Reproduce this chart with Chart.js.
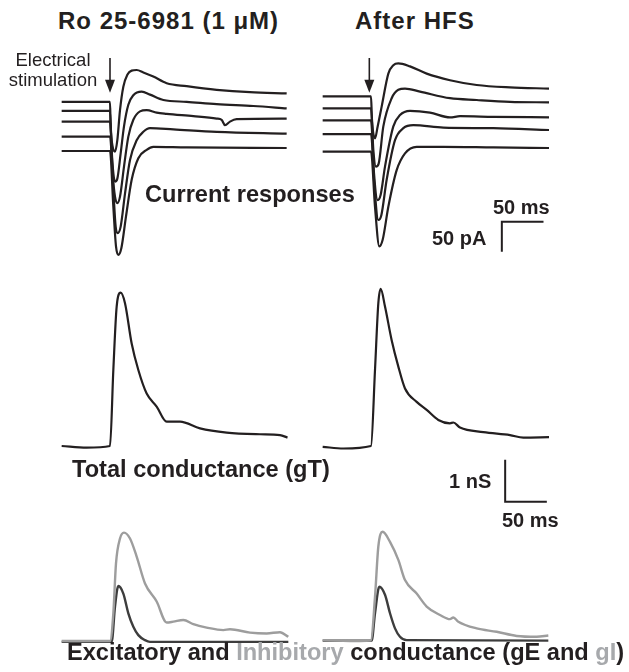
<!DOCTYPE html>
<html><head><meta charset="utf-8">
<script src="https://cdn.jsdelivr.net/npm/chart.js@4.4.1/dist/chart.umd.min.js"></script>
<style>
html,body{margin:0;padding:0;background:#fff;width:629px;height:672px;overflow:hidden;}
#wrap{position:relative;width:629px;height:672px;}
canvas{position:absolute;}
.t{position:absolute;font-family:"Liberation Sans",Arial,sans-serif;font-weight:bold;color:#231f20;line-height:1;white-space:nowrap;}
.r{font-weight:normal;text-align:center;width:110px;}
.g{color:#a7a9ac;}
</style></head><body><div id="wrap">
<canvas id="c1" width="230" height="215" style="left:60px;top:50px;width:230px;height:215px"></canvas>
<canvas id="c2" width="230" height="215" style="left:321px;top:50px;width:230px;height:215px"></canvas>
<canvas id="c3" width="230" height="230" style="left:60px;top:280px;width:230px;height:230px"></canvas>
<canvas id="c4" width="230" height="230" style="left:321px;top:280px;width:230px;height:230px"></canvas>
<canvas id="c5" width="230" height="140" style="left:60px;top:515px;width:230px;height:140px"></canvas>
<canvas id="c6" width="230" height="140" style="left:321px;top:515px;width:230px;height:140px"></canvas>

<div class="t" style="left:58px;top:8.7px;font-size:24px;letter-spacing:1px">Ro 25-6981 (1 μM)</div>
<div class="t" style="left:355px;top:8.7px;font-size:24px;letter-spacing:1px">After HFS</div>
<div class="t r" style="left:-2px;top:51.3px;font-size:18.5px">Electrical</div>
<div class="t r" style="left:-2px;top:71.3px;font-size:18.5px">stimulation</div>
<div class="t" style="left:145px;top:183px;font-size:23.6px">Current responses</div>
<div class="t" style="left:493px;top:197px;font-size:20px">50 ms</div>
<div class="t" style="left:432px;top:228px;font-size:20px">50 pA</div>
<div class="t" style="left:72px;top:458px;font-size:23.6px">Total conductance (gT)</div>
<div class="t" style="left:449px;top:471px;font-size:20px">1 nS</div>
<div class="t" style="left:502px;top:510px;font-size:20px">50 ms</div>
<div class="t" style="left:67px;top:641px;font-size:23.6px">Excitatory and <span class="g">Inhibitory</span> conductance (gE and <span class="g">gI</span>)</div>
</div>
<script>
// ---- Data: [time (ms from stimulus), value] ----
// Current responses (pA), Ro 25-6981 (1 µM)
const roCurrent1 = [[-58,82],[0,82],[0.8,41],[3.2,7],[6,-1],[8.8,18],[12,68],[16,107],[20.8,127],[26,134],[32,135],[40,131],[52,124],[68,113],[92,108],[128,102],[168,98],[212,96]];
const roCurrent2 = [[-58,67],[0,67],[2,2],[4,-37],[6,-51],[8.8,-46],[12.8,-4],[16.8,41],[22,77],[28,93],[38,99],[48,94],[64,85],[92,82],[128,78],[172,75],[212,71]];
const roCurrent3 = [[-58,49],[0,49],[3.2,-37],[6,-76],[8.8,-87],[12,-76],[16.8,-26],[22,24],[28,52],[36,66],[44,68],[56,64],[68,62],[100,58],[128,54],[134,52],[138,43],[144,49],[152,53],[212,54]];
const roCurrent4 = [[-58,24],[0,24],[4,-65],[6.8,-126],[9.2,-137],[12.8,-126],[18,-71],[24,-15],[32,18],[40,32],[48,38],[76,36],[128,32],[212,29]];
const roCurrent5 = [[-58,0],[0,0],[4,-93],[7.2,-159],[10,-173],[13.6,-162],[19.2,-109],[26,-48],[34,-12],[44,2],[52,7],[92,6],[212,5]];
// Current responses (pA), After HFS
const hfsCurrent1 = [[-58,91],[0,91],[1.2,52],[4.8,21],[8,41],[12.8,74],[20.8,129],[26.8,143],[32.8,146],[46.8,141],[66.8,129],[94.8,118],[126.8,110],[166.8,106],[213.6,104]];
const hfsCurrent2 = [[-58,71],[0,71],[2.8,2],[6,-26],[9.2,-21],[14.8,41],[24.8,88],[32.8,102],[40.8,104],[58.8,99],[94.8,88],[126.8,85],[166.8,82],[213.6,81]];
const hfsCurrent3 = [[-58,51],[0,51],[3.6,-37],[8,-82],[11.6,-73],[16.8,-26],[26.8,41],[34.8,60],[46.8,67],[70.8,64],[94.8,56],[106.8,58],[146.8,57],[213.6,56]];
const hfsCurrent4 = [[-58,28],[0,28],[4.4,-65],[8.8,-115],[12.4,-107],[18.8,-48],[28.8,18],[38.8,38],[50.8,43],[86.8,39],[146.8,38],[213.6,35]];
const hfsCurrent5 = [[-58,-1],[0,-1],[4.8,-93],[10,-159],[14,-148],[20.8,-93],[30.8,-32],[40.8,-4],[54.8,7],[86.8,7],[146.8,6],[213.6,5]];
// Total conductance gT (nS)
const roGT = [[-58,0],[-28,-0.04],[0,0],[4,1.81],[8,3.32],[12.8,3.65],[18,3.40],[26,2.44],[34,1.81],[44,1.25],[56,0.94],[68,0.58],[84,0.58],[108,0.42],[140,0.32],[180,0.28],[204,0.26],[213,0.20]];
const hfsGT = [[-58,-0.02],[-33,-0.06],[0,0],[4.8,1.81],[8.8,3.40],[11.6,3.74],[16.8,3.32],[24.8,2.52],[32.8,1.89],[40.8,1.37],[54.8,1.05],[66.8,0.86],[80.8,0.62],[94.8,0.54],[98.8,0.56],[106.8,0.44],[134.8,0.33],[166.8,0.26],[182.8,0.20],[213.6,0.21]];
// Excitatory (gE) and inhibitory (gI) conductance (nS)
const roGI = [[-58,0],[0,0],[4,0.66],[7.2,1.85],[12,2.44],[16.8,2.58],[24,2.44],[32,2.01],[42,1.37],[56,0.94],[68,0.44],[76,0.46],[88,0.50],[100,0.40],[116,0.32],[136,0.26],[144,0.28],[168,0.20],[188,0.18],[204,0.21],[214,0.10]];
const roGE = [[-58,-0.02],[2,-0.02],[6,0.82],[10,1.31],[16,1.13],[22,0.66],[28,0.34],[34,0.14],[42,0.02],[48,-0.02],[214,-0.02]];
const hfsGI = [[-58,0.02],[-13,0],[0,0.02],[4.8,1.05],[8.8,2.25],[14,2.60],[22.8,2.36],[32.8,1.93],[40.8,1.45],[54.8,1.13],[66.8,0.82],[82.8,0.62],[94.8,0.52],[98.8,0.56],[104.8,0.46],[126.8,0.30],[150.8,0.22],[174.8,0.12],[198.8,0.10],[212.8,0.13]];
const hfsGE = [[-58,0.01],[0.8,0.01],[4.8,0.66],[10,1.29],[16.8,1.10],[22.8,0.66],[28.8,0.30],[34.8,0.10],[42.8,0.02],[212.8,0.01]];
// Scale bars: 50 ms / 50 pA and 50 ms / 1 nS
const currentScaleBar = [[207,-118],[157,-118],[157,-168]];
const conductanceScaleBar = [[161,-0.33],[161,-1.33],[211,-1.33]];

const INK = '#231f20';
const xy = a => a.map(p => ({x:p[0], y:p[1]}));
const trace = (a, color, w) => ({data:xy(a), borderColor:color||INK, borderWidth:w||2.2, clip:false,
  cubicInterpolationMode:'monotone', pointRadius:0, fill:false});
const bar = a => ({data:xy(a), borderColor:INK, borderWidth:2, clip:false, tension:0, pointRadius:0, fill:false,
  borderCapStyle:'butt', borderJoinStyle:'miter'});

const arrowPlugin = {
  id:'stimArrow',
  afterDatasetsDraw(chart, args, opts){
    if (!opts || opts.t === undefined) return;
    const x = chart.scales.x.getPixelForValue(opts.t);
    const y1 = chart.scales.y.getPixelForValue(opts.from);
    const y2 = chart.scales.y.getPixelForValue(opts.to);
    const ctx = chart.ctx;
    ctx.save();
    ctx.strokeStyle = INK; ctx.fillStyle = INK; ctx.lineWidth = 1.6;
    ctx.beginPath(); ctx.moveTo(x, y1); ctx.lineTo(x, y2 - 8); ctx.stroke();
    ctx.beginPath(); ctx.moveTo(x - 5, y2 - 13); ctx.lineTo(x + 5, y2 - 13); ctx.lineTo(x, y2); ctx.closePath(); ctx.fill();
    ctx.restore();
  }
};

function panel(id, datasets, yMin, yMax, arrow){
  return new Chart(document.getElementById(id), {
    type:'line',
    data:{datasets},
    options:{
      responsive:false, animation:false, events:[], devicePixelRatio:1,
      layout:{padding:0},
      plugins:{legend:{display:false}, tooltip:{enabled:false}, title:{display:false}, stimArrow: arrow || false},
      scales:{
        x:{type:'linear', display:false, min:-60, max:216},
        y:{type:'linear', display:false, min:yMin, max:yMax}
      }
    },
    plugins:[arrowPlugin]
  });
}

panel('c1', [roCurrent1,roCurrent2,roCurrent3,roCurrent4,roCurrent5].map(a => trace(a)), -190, 168.333, {t:0, from:155, to:97});
panel('c2', [hfsCurrent1,hfsCurrent2,hfsCurrent3,hfsCurrent4,hfsCurrent5].map(a => trace(a)).concat([bar(currentScaleBar)]), -190, 168.333, {t:-2, from:155, to:97});
panel('c3', [trace(roGT)], -1.5238, 3.9524);
panel('c4', [trace(hfsGT), bar(conductanceScaleBar)], -1.5238, 3.9524);
panel('c5', [trace(roGI,'#9d9d9d',2.4), trace(roGE,'#3d3d3d',2.4)], -0.3333, 3.0);
panel('c6', [trace(hfsGI,'#9d9d9d',2.4), trace(hfsGE,'#3d3d3d',2.4)], -0.3333, 3.0);
</script>
</body></html>
